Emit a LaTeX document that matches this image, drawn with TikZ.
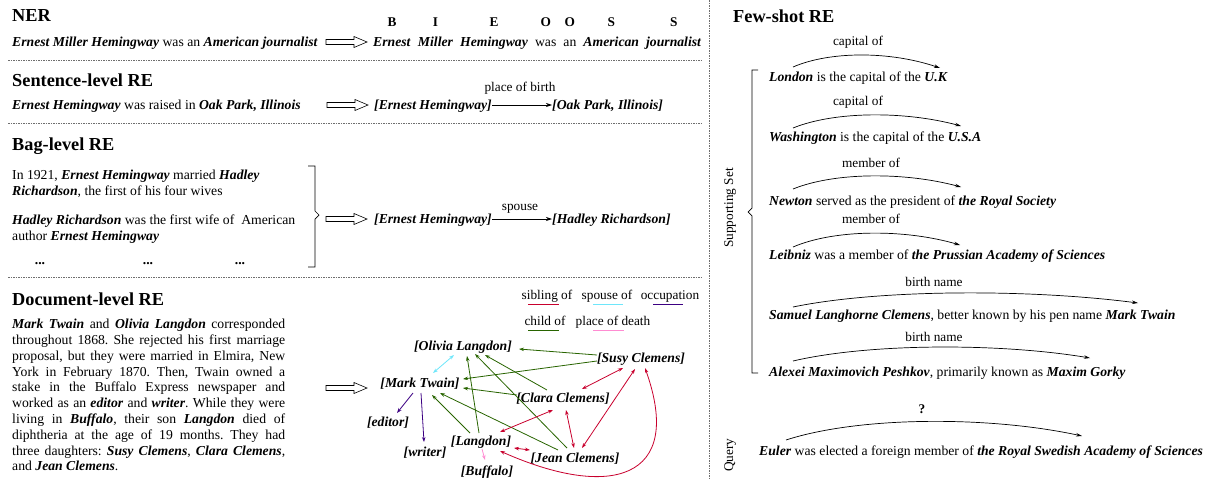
\documentclass[tikz,border=0pt]{standalone}
\usepackage{fontspec}
\setmainfont{Liberation Serif}
\usetikzlibrary{arrows.meta,calc}
\definecolor{sib}{RGB}{200,0,45}
\definecolor{spo}{RGB}{110,230,250}
\definecolor{occ}{RGB}{60,0,130}
\definecolor{chi}{RGB}{40,100,0}
\definecolor{pla}{RGB}{255,140,210}
\definecolor{dashc}{RGB}{110,110,110}
\newcommand\ent[1]{\textbf{\textit{#1}}}
\newcommand\jline[1]{\makebox[273pt][s]{#1}}
\frenchspacing
\begin{document}
\begin{tikzpicture}[x=1pt,y=-1pt,
  title/.style={font=\fontsize{18.3}{20}\selectfont\bfseries,anchor=base west,inner sep=0pt},
  txt/.style={font=\fontsize{13.7}{15.8}\selectfont,anchor=base west,inner sep=0pt},
  lbl/.style={font=\fontsize{13.3}{15}\selectfont,anchor=base,inner sep=0pt},
  tag/.style={font=\fontsize{13.3}{15}\selectfont\bfseries,anchor=base,inner sep=0pt},
  ent/.style={font=\fontsize{13.7}{15.8}\selectfont\bfseries\itshape,anchor=base,inner sep=0pt},
  wrd/.style={font=\fontsize{13.7}{15.8}\selectfont,anchor=base west,inner sep=0pt},
  gnode/.style={font=\fontsize{13.7}{15.8}\selectfont\bfseries\itshape,inner sep=1pt},
  sep/.style={dashc,line width=0.6pt,dash pattern=on 1.5pt off 1pt},
  rel/.style={-{Stealth[length=6pt,width=4pt]},line width=0.7pt},
  arc/.style={-{Stealth[length=6pt,width=3.5pt]},line width=0.7pt},
  ge/.style={-{Stealth[length=5pt,width=3.5pt]},line width=0.8pt},
  gd/.style={{Stealth[length=5pt,width=3.5pt]}-{Stealth[length=5pt,width=3.5pt]},line width=0.8pt},
  hollow/.pic={\draw[line width=0.6pt,fill=white] (0,-2.5) -- (28,-2.5) -- (28,-5.5) -- (41,0) -- (28,5.5) -- (28,2.5) -- (0,2.5) -- cycle;}
]
\useasboundingbox (0,0) rectangle (1209,479);

% separators
\draw[sep] (8,60) -- (703,60);
\draw[sep] (8,123) -- (703,123);
\draw[sep] (8,277) -- (703,277);
\draw[sep] (709,0) -- (709,479);

% ---------------- NER
\node[title] (nert) at (12,21) {NER};
\node[txt] (ners) at (12,46) {\ent{Ernest Miller Hemingway} was an \ent{American journalist}};
\pic at (326,42) {hollow};
\node[wrd] (w1) at (373,46) {\ent{Ernest}};
\node[wrd] (w2) at ([xshift=6.7pt]w1.base east) {\ent{Miller}};
\node[wrd] (w3) at ([xshift=6.7pt]w2.base east) {\ent{Hemingway}};
\node[wrd] (w4) at ([xshift=6.7pt]w3.base east) {was};
\node[wrd] (w5) at ([xshift=6.7pt]w4.base east) {an};
\node[wrd] (w6) at ([xshift=6.7pt]w5.base east) {\ent{American}};
\node[wrd] (w7) at ([xshift=6.7pt]w6.base east) {\ent{journalist}};
\node[tag] (t1) at (w1.base |- 0,27) {B};
\node[tag] (t2) at (w2.base |- 0,27) {I};
\node[tag] (t3) at (w3.base |- 0,27) {E};
\node[tag] (t4) at (w4.base |- 0,27) {O};
\node[tag] (t5) at (w5.base |- 0,27) {O};
\node[tag] (t6) at (w6.base |- 0,27) {S};
\node[tag] (t7) at (w7.base |- 0,27) {S};

% ---------------- Sentence-level RE
\node[title] (sret) at (12,86) {Sentence-level RE};
\node[txt] (sres) at (12,109) {\ent{Ernest Hemingway} was raised in \ent{Oak Park, Illinois}};
\pic at (327,105) {hollow};
\node[ent,anchor=base west] (sa) at (374,109) {[Ernest Hemingway]};
\node[ent,anchor=base west] (sb) at (552,109) {[Oak Park, Illinois]};
\draw[rel] (sa.east |- 0,105) -- (sb.west |- 0,105);
\node[lbl] (srel) at (520,91) {place of birth};

% ---------------- Bag-level RE
\node[title] (bagt) at (12,150) {Bag-level RE};
\node[txt] (b1) at (12,179.5) {In 1921, \ent{Ernest Hemingway} married \ent{Hadley}};
\node[txt] (b2) at (12,195) {\ent{Richardson}, the first of his four wives};
\node[txt] (b3) at (12,224.5) {\ent{Hadley Richardson} was the first wife of\ \ American};
\node[txt] (b4) at (12,240) {author \ent{Ernest Hemingway}};
\node[txt,anchor=base] (d1) at (40,264) {\textbf{...}};
\node[txt,anchor=base] (d2) at (148,264) {\textbf{...}};
\node[txt,anchor=base] (d3) at (240,264) {\textbf{...}};
\draw[line width=0.7pt] (308,166) -- (315,166) -- (315,211) -- (319,215) -- (315,219) -- (315,267) -- (308,267);
\pic at (326,219) {hollow};
\node[ent,anchor=base west] (ba) at (374,223) {[Ernest Hemingway]};
\node[ent,anchor=base west] (bb) at (552,223) {[Hadley Richardson]};
\draw[rel] (ba.east |- 0,219) -- (bb.west |- 0,219);
\node[lbl] (brel) at (520,210) {spouse};

% ---------------- Document-level RE
\node[title] (doct) at (12,305) {Document-level RE};
\node[txt,anchor=north west,align=left] (para) at (12,319) {%
\jline{\ent{Mark Twain} and \ent{Olivia Langdon} corresponded}\\
\jline{throughout 1868. She rejected his first marriage}\\
\jline{proposal, but they were married in Elmira, New}\\
\jline{York in February 1870. Then, Twain owned a}\\
\jline{stake in the Buffalo Express newspaper and}\\
\jline{worked as an \ent{editor} and \ent{writer}. While they were}\\
\jline{living in \ent{Buffalo}, their son \ent{Langdon} died of}\\
\jline{diphtheria at the age of 19 months. They had}\\
\jline{three daughters: \ent{Susy Clemens}, \ent{Clara Clemens},}\\
and \ent{Jean Clemens}.};
\pic at (326,388) {hollow};

% legend
\node[lbl] (lg1) at (547,299) {sibling of};
\node[lbl] (lg2) at (607,299) {spouse of};
\node[lbl] (lg3) at (670,299) {occupation};
\node[lbl] (lg4) at (545,325) {child of};
\node[lbl] (lg5) at (613,325) {place of death};
\draw[sib,line width=1pt] (528,304) -- (559,304);
\draw[spo,line width=1pt] (593,304) -- (623,304);
\draw[occ,line width=1pt] (653,304) -- (683,304);
\draw[chi,line width=1pt] (528,330) -- (559,330);
\draw[pla,line width=1pt] (593,330) -- (624,330);

% graph nodes
\node[gnode] (ol) at (463,347) {[Olivia Langdon]};
\node[gnode] (mt) at (420,384) {[Mark Twain]};
\node[gnode] (su) at (641,359) {[Susy Clemens]};
\node[gnode] (cl) at (563,399) {[Clara Clemens]};
\node[gnode] (ed) at (388,423) {[editor]};
\node[gnode] (wr) at (425,453) {[writer]};
\node[gnode] (la) at (481,442) {[Langdon]};
\node[gnode] (je) at (575,459) {[Jean Clemens]};
\node[gnode] (bu) at (487,472) {[Buffalo]};

% spouse
\draw[gd,spo] ([shift={(13,-11)}]mt.center) -- ([shift={(-9,8)}]ol.center);
% child of
\draw[ge,chi] ([shift={(-44,-4)}]su.center) -- ([shift={(56,2)}]ol.center);
\draw[ge,chi] ([shift={(-44,2)}]su.center) -- ([shift={(43,-5)}]mt.center);
\draw[ge,chi] ([shift={(-16,-9)}]cl.center) -- ([shift={(22,8)}]ol.center);
\draw[ge,chi] ([shift={(-46,-4)}]cl.center) -- ([shift={(43,4)}]mt.center);
\draw[ge,chi] ([shift={(-2,-9)}]la.center) -- ([shift={(4,9)}]ol.center);
\draw[ge,chi] ([shift={(-11,-9)}]la.center) -- ([shift={(12,11)}]mt.center);
\draw[ge,chi] ([shift={(-8,-11)}]je.center) -- ([shift={(12,7)}]ol.center);
\draw[ge,chi] ([shift={(-17,-9)}]je.center) -- ([shift={(20,9)}]mt.center);
% occupation
\draw[ge,occ] ([shift={(-7,9)}]mt.center) -- ([shift={(9,-10)}]ed.center);
\draw[ge,occ] ([shift={(1,9)}]mt.center) -- ([shift={(-1,-11)}]wr.center);
% place of death
\draw[ge,pla] ([shift={(1,7)}]la.center) -- ([shift={(-2,-12)}]bu.center);
% sibling
\draw[gd,sib] ([shift={(-18,9)}]su.center) -- ([shift={(19,-10)}]cl.center);
\draw[gd,sib] ([shift={(-6,10)}]su.center) -- ([shift={(7,-11)}]je.center);
\draw[gd,sib] ([shift={(-10,11)}]cl.center) -- ([shift={(19,-10)}]la.center);
\draw[gd,sib] ([shift={(3,11)}]cl.center) -- ([shift={(-1,-11)}]je.center);
\draw[gd,sib] ([shift={(33,6)}]la.center) -- ([shift={(-45,-9)}]je.center);
\draw[gd,sib] ([shift={(4,9)}]su.center) .. controls (685,480) and (610,500) .. ([shift={(19,9)}]la.center);

% ---------------- Few-shot RE
\node[title] (fst) at (733,22) {Few-shot RE};
\draw[line width=0.7pt] (758,70) -- (752,70) -- (752,208) -- (748,212) -- (752,216) -- (752,373) -- (758,373);
\node[lbl,rotate=90] (supp) at (733,208) {Supporting Set};
\node[lbl,rotate=90] (qry) at (733,455) {Query};

\node[txt] (f1) at (769,81) {\ent{London} is the capital of the \ent{U.K}};
\node[lbl] (r1) at (858,45) {capital of};
\coordinate (a1s) at (793,67); \coordinate (a1e) at (940,68);
\draw[arc] (a1s) .. controls (830,51) and (890,51) .. (a1e);

\node[txt] (f2) at (769,141) {\ent{Washington} is the capital of the \ent{U.S.A}};
\node[lbl] (r2) at (858,105) {capital of};
\coordinate (a2s) at (793,128); \coordinate (a2e) at (961,126);
\draw[arc] (a2s) .. controls (835,111) and (905,111) .. (a2e);

\node[txt] (f3) at (769,205) {\ent{Newton} served as the president of \ent{the Royal Society}};
\node[lbl] (r3) at (871,167) {member of};
\coordinate (a3s) at (793,189); \coordinate (a3e) at (961,187);
\draw[arc] (a3s) .. controls (835,172) and (905,172) .. (a3e);

\node[txt] (f4) at (769,259) {\ent{Leibniz} was a member of \ent{the Prussian Academy of Sciences}};
\node[lbl] (r4) at (871,223) {member of};
\coordinate (a4s) at (793,247); \coordinate (a4e) at (960,245);
\draw[arc] (a4s) .. controls (835,229) and (905,229) .. (a4e);

\node[txt] (f5) at (769,319) {\ent{Samuel Langhorne Clemens}, better known by his pen name \ent{Mark Twain}};
\node[lbl] (r5) at (934,286) {birth name};
\coordinate (a5s) at (793,307); \coordinate (a5e) at (1138,303);
\draw[arc] (a5s) .. controls (880,289) and (1030,289) .. (a5e);

\node[txt] (f6) at (769,376) {\ent{Alexei Maximovich Peshkov}, primarily known as \ent{Maxim Gorky}};
\node[lbl] (r6) at (934,341) {birth name};
\coordinate (a6s) at (793,361); \coordinate (a6e) at (1090,358);
\draw[arc] (a6s) .. controls (870,343) and (1000,343) .. (a6e);

\node[txt] (f7) at (759,455) {\ent{Euler} was elected a foreign member of \ent{the Royal Swedish Academy of Sciences}};
\node[tag] (r7) at (922,413) {?};
\coordinate (a7s) at (786,440); \coordinate (a7e) at (1082,436);
\draw[arc] (a7s) .. controls (860,416) and (990,416) .. (a7e);
\end{tikzpicture}
\end{document}
